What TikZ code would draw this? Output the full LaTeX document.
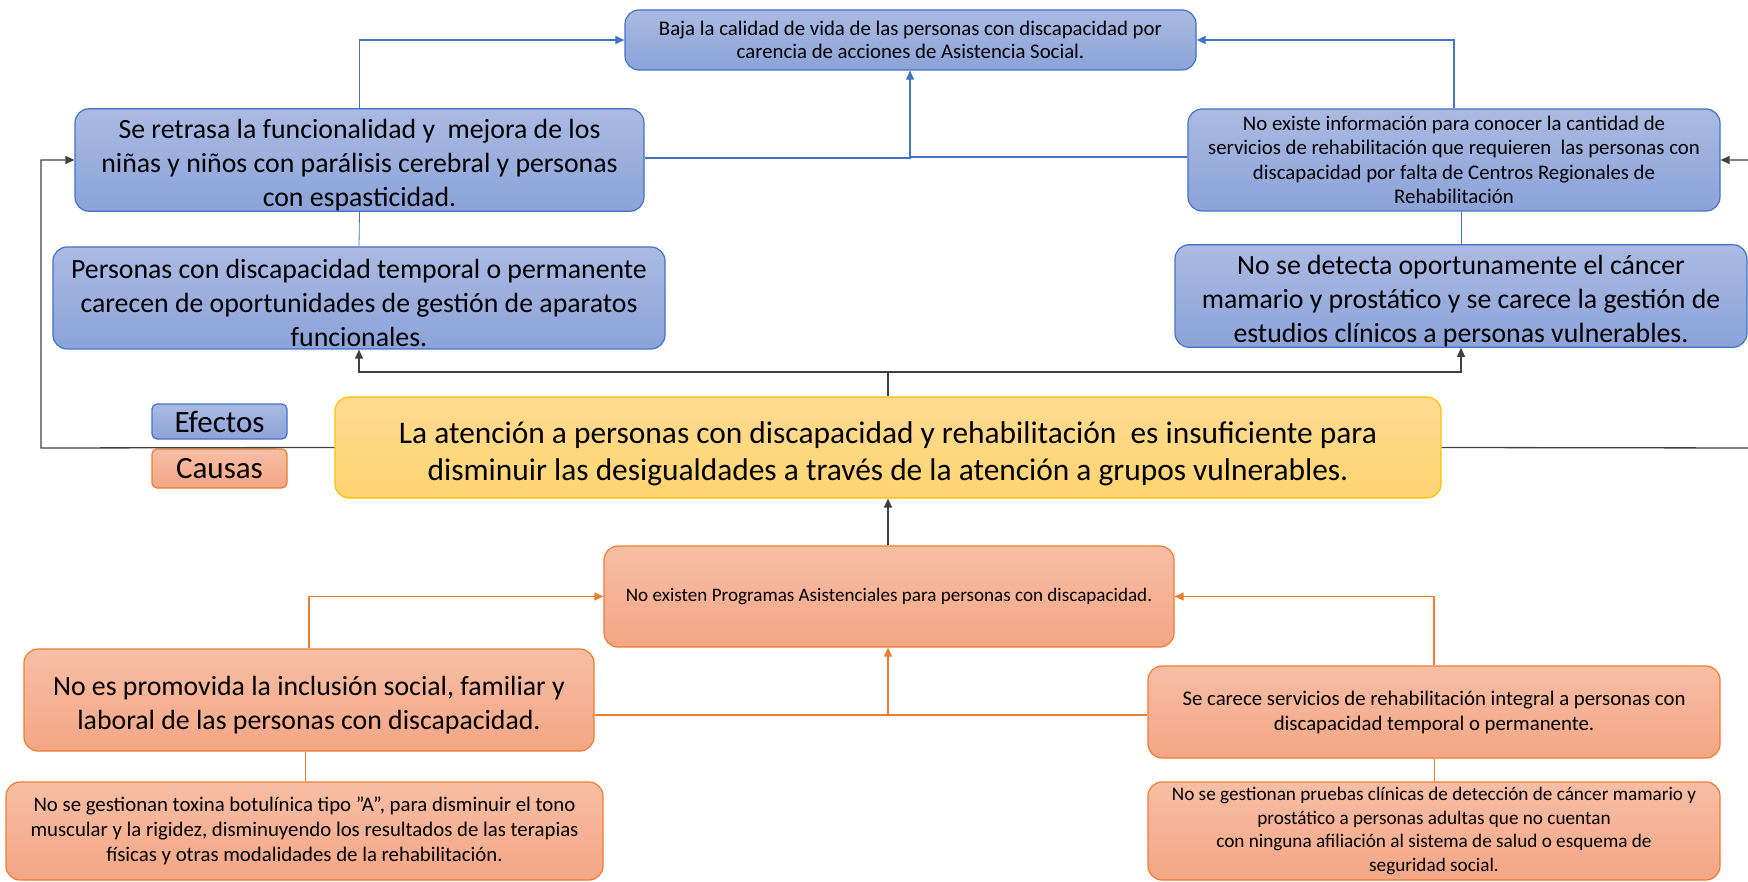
\documentclass[tikz,border=0pt]{standalone}
\usepackage{fontspec}
\setmainfont{Carlito}
\usetikzlibrary{arrows.meta}
\definecolor{bTop}{RGB}{170,186,226}
\definecolor{bBot}{RGB}{140,163,217}
\definecolor{bLine}{RGB}{68,114,196}
\definecolor{oTop}{RGB}{247,190,165}
\definecolor{oBot}{RGB}{244,166,133}
\definecolor{oLine}{RGB}{237,125,49}
\definecolor{yTop}{RGB}{255,219,146}
\definecolor{yBot}{RGB}{255,212,112}
\definecolor{yLine}{RGB}{255,192,0}
\definecolor{kLine}{RGB}{64,64,64}
\newcommand{\padm}{\rule{0pt}{30pt}}
\newcommand{\padl}{\rule{0pt}{34pt}}
\tikzset{
  box/.style={rectangle, rounded corners=14pt, align=center, inner sep=0pt, line width=1.2pt},
  bluebox/.style={box, draw=bLine, top color=bTop, bottom color=bBot},
  orangebox/.style={box, draw=oLine, top color=oTop, bottom color=oBot},
  yellowbox/.style={box, draw=yLine, top color=yTop, bottom color=yBot},
  fs/.style={font=\fontsize{20.8}{23.5}\selectfont},
  fxs/.style={font=\fontsize{19.1}{23.5}\selectfont},
  fm/.style={font=\fontsize{27.8}{34}\selectfont},
  fl/.style={font=\fontsize{31.4}{37}\selectfont},
  flegend/.style={font=\fontsize{31}{34}\selectfont},
  bconn/.style={draw=bLine, line width=1.1pt},
  oconn/.style={draw=oLine, line width=1.2pt},
  kconn/.style={draw=kLine, line width=1.3pt},
  tip/.style={-{Triangle[length=9pt,width=8pt]}}
}
\begin{document}
\begin{tikzpicture}[x=1pt,y=-1pt]
\useasboundingbox (0,0) rectangle (1748,882);
\clip (0,0) rectangle (1748,882);
% effects
\node[bluebox, fs, minimum width=571pt, minimum height=60pt] (top) at (910.5,40)
  {Baja la calidad de vida de las personas con discapacidad por\\carencia de acciones de Asistencia Social.};
\node[bluebox, fm, minimum width=569pt, minimum height=102pt] (retrasa) at (359.5,160)
  {\padm Se retrasa la funcionalidad y\ \ mejora de los\\niñas y niños con parálisis cerebral y personas\\con espasticidad.};
\node[bluebox, fm, minimum width=612pt, minimum height=102pt] (personas) at (359,298)
  {\padm Personas con discapacidad temporal o permanente\\carecen de oportunidades de gestión de aparatos\\funcionales.};
\node[bluebox, font=\fontsize{20.8}{24.5}\selectfont, minimum width=532pt, minimum height=102pt] (existe) at (1454,160)
  {No existe información para conocer la cantidad de\\servicios de rehabilitación que requieren\ \ las personas con\\discapacidad por falta de Centros Regionales de\\Rehabilitación};
\node[bluebox, fm, minimum width=572pt, minimum height=102pt] (detecta) at (1461,296)
  {\padm No se detecta oportunamente el cáncer\\mamario y prostático y se carece la gestión de\\estudios clínicos a personas vulnerables.};
% legend
\node[bluebox, flegend, rounded corners=5pt, minimum width=135pt, minimum height=35pt] (efectos) at (219.5,421.5) {Efectos};
\node[orangebox, flegend, rounded corners=5pt, minimum width=135pt, minimum height=39pt] (causas) at (219.5,468.5) {Causas};
% main problem
\node[yellowbox, fl, minimum width=1106pt, minimum height=101pt] (main) at (888,447.5)
  {\padl La atención a personas con discapacidad y rehabilitación\ \ es insuficiente para\\disminuir las desigualdades a través de la atención a grupos vulnerables.};
% causes
\node[orangebox, fxs, minimum width=570pt, minimum height=101pt] (programas) at (889,596.5)
  {No existen Programas Asistenciales para personas con discapacidad.};
\node[orangebox, fm, minimum width=570pt, minimum height=102pt] (promovida) at (309,700)
  {\padm No es promovida la inclusión social, familiar y\\laboral de las personas con discapacidad.};
\node[orangebox, font=\fontsize{20.8}{25}\selectfont, minimum width=572pt, minimum height=92pt] (carece) at (1434,712)
  {Se carece servicios de rehabilitación integral a personas con\\discapacidad temporal o permanente.};
\node[orangebox, font=\fontsize{20.8}{25}\selectfont, minimum width=597pt, minimum height=98pt] (toxina) at (304.5,831)
  {No se gestionan toxina botulínica tipo "A", para disminuir el tono\\muscular y la rigidez, disminuyendo los resultados de las terapias\\físicas y otras modalidades de la rehabilitación.};
\node[orangebox, font=\fontsize{19.2}{23.5}\selectfont, minimum width=572pt, minimum height=98pt] (pruebas) at (1434,831)
  {No se gestionan pruebas clínicas de detección de cáncer mamario y\\prostático a personas adultas que no cuentan\\con ninguna afiliación al sistema de salud o esquema de\\seguridad social.};
% coordinates
\coordinate (bjoin) at (910,158);
\coordinate (kjoin) at (888,372);
\coordinate (kleft) at (41,448);
\coordinate (kright) at (1760,448);
\coordinate (ojoin) at (888,715);
% blue connectors
\draw[bconn, tip] (retrasa.north) |- (top.west);
\draw[bconn, tip] (retrasa.east |- bjoin) -- (bjoin) -- (top.south -| bjoin);
\draw[bconn] (existe.west |- 0,157) -- (bjoin |- 0,157);
\draw[bconn, tip] (existe.north) |- (top.east);
\draw[bconn, line width=0.8pt] (retrasa.south) -- (personas.north);
\draw[bconn, line width=0.8pt] (detecta.north |- existe.south) -- (detecta.north);
% black connectors
\draw[kconn] (main.north -| kjoin) -- (kjoin);
\draw[kconn, tip] (kjoin) -| (personas.south);
\draw[kconn, tip] (kjoin) -| (detecta.south);
\draw[kconn, tip] (main.west) -- (kleft) |- (retrasa.west);
\draw[kconn, tip] (main.east) -- (kright) |- (existe.east);
\draw[kconn, tip] (programas.north -| kjoin) -- (main.south -| kjoin);
% orange connectors
\draw[oconn, tip] (promovida.north) |- (programas.west);
\draw[oconn] (promovida.east |- ojoin) -- (carece.west |- ojoin);
\draw[oconn, tip] (ojoin) -- (programas.south -| ojoin);
\draw[oconn, tip] (carece.north) |- (programas.east);
\draw[oconn, line width=0.8pt] (toxina.north -| 305,0) -- (promovida.south -| 305,0);
\draw[oconn, line width=0.8pt] (carece.south) -- (pruebas.north);
\end{tikzpicture}
\end{document}
